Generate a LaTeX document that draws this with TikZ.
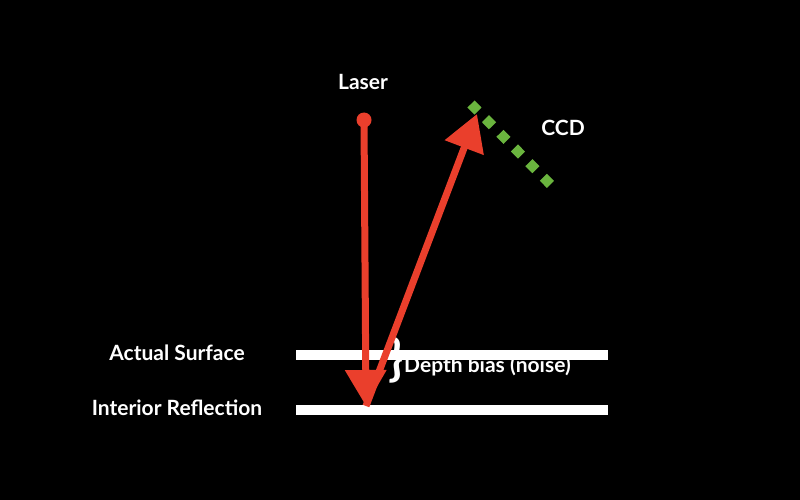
\documentclass[tikz,border=0pt]{standalone}
\usepackage{fontspec}
\setmainfont{Lato}
\usetikzlibrary{arrows.meta}
\definecolor{laserred}{HTML}{EA3F2C}
\definecolor{ccdgreen}{HTML}{6AB43E}
\tikzset{
  lbl/.style={text=white, font=\bfseries\fontsize{21}{24}\selectfont, inner sep=0},
  surface/.style={draw=white, line width=10},
  ray/.style={draw=laserred, line width=7, -{Triangle[length=36,width=40]}},
  ccdline/.style={draw=ccdgreen, line width=10, dash pattern=on 10 off 10.6}
}
\begin{document}
\begin{tikzpicture}[x=1pt,y=-1pt]
\fill[black] (0,0) rectangle (800,500);
\useasboundingbox (0,0) rectangle (800,500);
% labels
\node[lbl] (laserlbl) at (363,82) {Laser};
\node[lbl] (ccdlbl) at (563,128) {CCD};
\node[lbl] (actual) at (177,353) {Actual Surface};
\node[lbl] (interior) at (177,408) {Interior Reflection};
\node[lbl, anchor=base west] (bias) at (404,372) {Depth bias (noise)};
\node[text=white, font=\bfseries\fontsize{50}{54}\selectfont, inner sep=0] (brace) at (396,360) {\}};
% surfaces
\coordinate (s1a) at (296,355); \coordinate (s1b) at (608,355);
\coordinate (s2a) at (296,410); \coordinate (s2b) at (608,410);
\draw[surface] (s1a) -- (s1b);
\draw[surface] (s2a) -- (s2b);
% CCD
\coordinate (ccda) at (471,104);
\coordinate (ccdb) at (553,187);
\draw[ccdline] (ccda) -- (ccdb);
% laser
\node[circle, fill=laserred, inner sep=0, minimum size=15] (laser) at (364,120) {};
\coordinate (hit) at (366,406);
\coordinate (ccdhit) at (477,114);
\draw[ray] (laser.center) -- (hit);
\draw[ray] (hit) -- (ccdhit);
\end{tikzpicture}
\end{document}
